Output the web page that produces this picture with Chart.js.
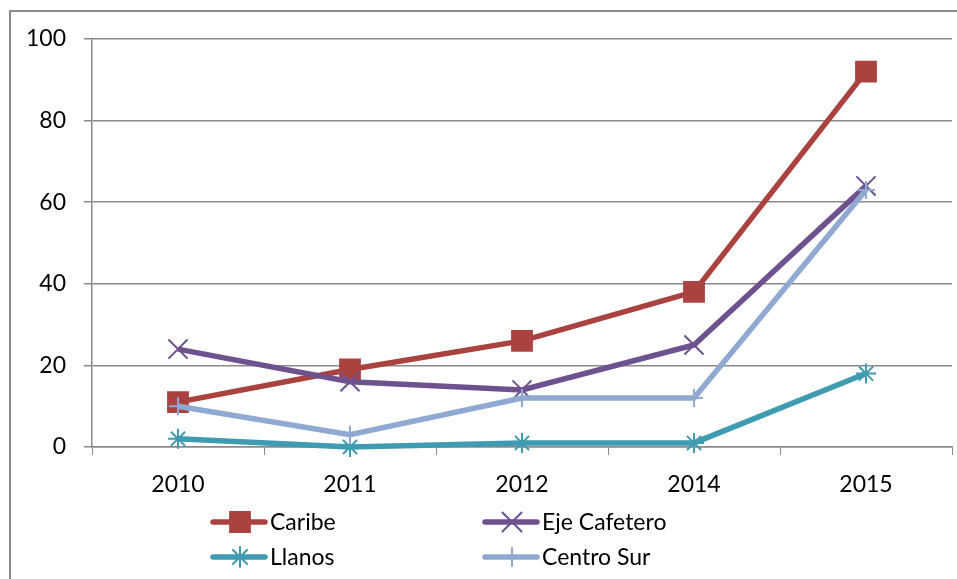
<!DOCTYPE html>
<html>
<head>
<meta charset="utf-8">
<script src="https://cdn.jsdelivr.net/npm/chart.js@4.4.1/dist/chart.umd.min.js"></script>
<style>
  html, body { margin: 0; padding: 0; background: #fff; overflow: hidden; }
  #wrap { width: 957px; height: 579px; }
  canvas { display: block; }
</style>
</head>
<body>
<div id="wrap"><canvas id="chart" width="957" height="579"></canvas></div>
<script>
// data
var years = ['2010', '2011', '2012', '2014', '2015'];
var caribe = [11, 19, 26, 38, 92];
var ejeCafetero = [24, 16, 14, 25, 64];
var llanos = [2, 0, 1, 1, 18];
var centroSur = [10, 3, 12, 12, 63];
var yTicks = [0, 20, 40, 60, 80, 100];

var fontFamily = "Lato, 'Liberation Sans', sans-serif";
var axisGray = '#8a8a8a';

// legend slots (layout only)
var legendSlots = [
  { x: 213, y: 522 },
  { x: 485, y: 522 },
  { x: 213, y: 557 },
  { x: 485, y: 557 }
];

var framePlugin = {
  id: 'frame',
  beforeDraw: function(chart) {
    var ctx = chart.ctx;
    ctx.save();
    ctx.fillStyle = '#fff';
    ctx.fillRect(0, 0, chart.width, chart.height);
    ctx.strokeStyle = axisGray;
    ctx.lineWidth = 2;
    ctx.strokeRect(10, 11, 1000, 1000);
    ctx.restore();
  }
};

var legendPlugin = {
  id: 'excelLegend',
  afterDraw: function(chart) {
    var ctx = chart.ctx;
    chart.data.datasets.forEach(function(ds, i) {
      var s = legendSlots[i];
      ctx.save();
      ctx.strokeStyle = ds.borderColor;
      ctx.fillStyle = ds.borderColor;
      ctx.lineWidth = ds.borderWidth;
      ctx.lineCap = 'round';
      ctx.beginPath();
      ctx.moveTo(s.x, s.y);
      ctx.lineTo(s.x + 52, s.y);
      ctx.stroke();
      ctx.lineWidth = ds.pointBorderWidth;
      Chart.helpers.drawPoint(ctx, {
        pointStyle: ds.pointStyle,
        radius: ds.pointRadius,
        rotation: 0,
        borderWidth: ds.pointBorderWidth
      }, s.x + 27, s.y);
      ctx.fillStyle = '#000';
      ctx.font = '23px ' + fontFamily;
      ctx.textBaseline = 'middle';
      ctx.textAlign = 'left';
      ctx.fillText(ds.label, s.x + 57, s.y + 1);
      ctx.restore();
    });
  }
};

function series(label, values, color, style, radius, order) {
  return {
    label: label,
    data: values,
    borderColor: color,
    backgroundColor: color,
    borderWidth: 5.5,
    pointStyle: style,
    pointRadius: radius,
    pointHoverRadius: radius,
    pointBorderWidth: 2,
    pointBackgroundColor: color,
    pointBorderColor: color,
    tension: 0,
    clip: false,
    order: order
  };
}

var ctx = document.getElementById('chart').getContext('2d');
new Chart(ctx, {
  type: 'line',
  data: {
    labels: years,
    datasets: [
      series('Caribe', caribe, '#AA4340', 'rect', 14, 4),
      series('Eje Cafetero', ejeCafetero, '#6E528F', 'crossRot', 13.5, 3),
      series('Llanos', llanos, '#3F9BB1', 'star', 10, 2),
      series('Centro Sur', centroSur, '#8FA9D2', 'cross', 9, 1)
    ]
  },
  options: {
    responsive: false,
    animation: false,
    events: [],
    layout: { autoPadding: false, padding: { top: 39, right: 5, bottom: 0, left: 0 } },
    plugins: {
      legend: { display: false },
      tooltip: { enabled: false }
    },
    scales: {
      x: {
        offset: true,
        afterFit: function(scale) {
          scale.height = 132;
          scale.paddingLeft = 0;
          scale.paddingRight = 0;
        },
        grid: {
          offset: true,
          drawOnChartArea: false,
          drawTicks: true,
          tickLength: 8,
          color: axisGray
        },
        border: { display: true, color: axisGray, width: 1.5 },
        ticks: {
          color: '#000',
          padding: 16,
          maxRotation: 0,
          font: { family: fontFamily, size: 23 }
        }
      },
      y: {
        min: 0,
        max: 100,
        afterFit: function(scale) {
          scale.width = 92;
          scale.paddingTop = 0;
          scale.paddingBottom = 0;
        },
        afterBuildTicks: function(scale) {
          scale.ticks = yTicks.map(function(v) { return { value: v }; });
        },
        grid: {
          color: axisGray,
          lineWidth: 1.5,
          drawTicks: true,
          tickLength: 8
        },
        border: { display: true, color: axisGray, width: 1.5 },
        ticks: {
          color: '#000',
          padding: 18,
          font: { family: fontFamily, size: 23 }
        }
      }
    }
  },
  plugins: [framePlugin, legendPlugin]
});
</script>
</body>
</html>
